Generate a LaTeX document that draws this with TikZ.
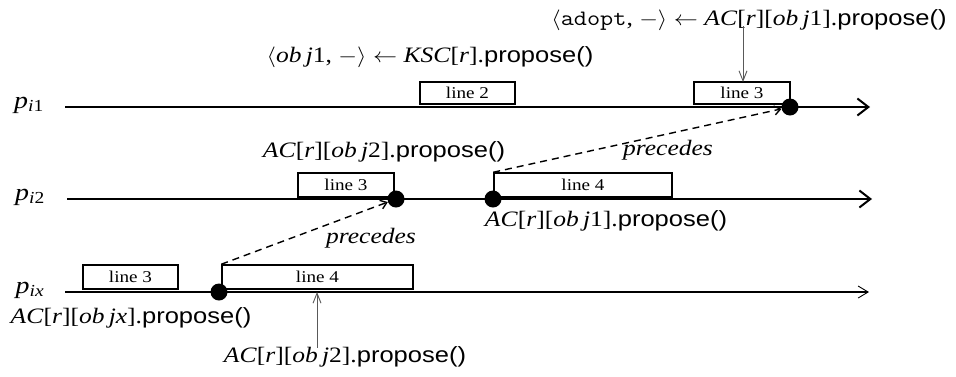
\documentclass[tikz,border=0pt]{standalone}
\usepackage{fontspec}
\setmainfont{Liberation Serif}
\setsansfont{Liberation Sans}
\usetikzlibrary{arrows.meta}
\newcommand{\pr}{\textsf{propose()}}
\newcommand{\ob}{\textit{ob\,j}}
\newcommand{\wx}[1]{\scalebox{1.16}[1]{#1}}
\begin{document}
\begin{tikzpicture}[x=1pt,y=-1pt,
  lbl/.style={font=\fontsize{22}{24}\selectfont, inner sep=0pt, anchor=base},
  plbl/.style={font=\fontsize{24}{26}\selectfont, inner sep=0pt, anchor=base},
  linebox/.style={draw, line width=1.5pt, font=\fontsize{16.5}{18}\selectfont, inner sep=0pt},
  tl/.style={line width=2.9pt, -{Straight Barb[length=11pt,width=17pt,line width=2pt]}},
  tlthin/.style={line width=2.3pt, -{Straight Barb[length=10pt,width=12pt,line width=0.9pt]}},
  evt/.style={circle, fill=black, inner sep=0pt, minimum size=17pt},
  prec/.style={dash pattern=on 7pt off 5pt, line width=1.4pt, -{Straight Barb[length=6pt,width=9pt]}},
  ptr/.style={gray!70!black, line width=0.9pt, -{Straight Barb[length=10pt,width=8pt]}}]
\useasboundingbox (0,0) rectangle (956,376);

% process labels and timelines
\node[plbl] (p1) at (29,108) {\wx{\textit{p}\textsubscript{\textit{i}1}}};
\node[plbl] (p2) at (30,200) {\wx{\textit{p}\textsubscript{\textit{i}2}}};
\node[plbl] (px) at (30,293) {\wx{\textit{p}\textsubscript{\textit{ix}}}};
\coordinate (s1) at (65,107);  \coordinate (e1) at (870,107);
\coordinate (s2) at (67,199);  \coordinate (e2) at (872,199);
\coordinate (sx) at (65,292);  \coordinate (ex) at (869,292);

% boxes
\node[linebox, minimum width=95pt, minimum height=22pt] (b12) at (467.5,93) {\wx{line 2}};
\node[linebox, minimum width=96pt, minimum height=22pt] (b13) at (742,93) {\wx{line 3}};
\node[linebox, minimum width=96pt, minimum height=24pt] (b23) at (346,185) {\wx{line 3}};
\node[linebox, minimum width=178pt, minimum height=24pt] (b24) at (583,185) {\wx{line 4}};
\node[linebox, minimum width=95pt, minimum height=24pt] (bx3) at (130.5,277) {\wx{line 3}};
\node[linebox, minimum width=191pt, minimum height=24pt] (bx4) at (317.5,277) {\wx{line 4}};

\draw[tl] (s1) -- (e1);
\draw[tl] (s2) -- (e2);
\draw[tlthin] (sx) -- (ex);

% events
\node[evt] (d1) at (790,107) {};
\node[evt] (d2) at (396,199) {};
\node[evt] (d3) at (493,199) {};
\node[evt] (d4) at (219,292) {};

% texts
\node[lbl] (top) at (749,25) {\wx{$\langle$\texttt{adopt}, $-\rangle \leftarrow$ \textit{AC}[\textit{r}][\ob1].\pr}};
\node[lbl] (ksc) at (430,62) {\wx{$\langle$\ob1, $-\rangle \leftarrow$ \textit{KSC}[\textit{r}].\pr}};
\node[lbl] (a2) at (384,157) {\wx{\textit{AC}[\textit{r}][\ob2].\pr}};
\node[lbl] (a1) at (606,226) {\wx{\textit{AC}[\textit{r}][\ob1].\pr}};
\node[lbl] (ax) at (131,323) {\wx{\textit{AC}[\textit{r}][\ob\textit{x}].\pr}};
\node[lbl] (ab) at (345,362) {\wx{\textit{AC}[\textit{r}][\ob2].\pr}};

% precedes
\draw[prec] (b24.north west) -- (d1);
\draw[prec] (bx4.north west) -- (d2);
\node[lbl] (pr1) at (668,155) {\wx{\textit{precedes}}};
\node[lbl] (pr2) at (371,243) {\wx{\textit{precedes}}};

% pointers
\coordinate (q1) at (743,82);
\coordinate (q2) at (317,292);
\draw[ptr] (top.south -| q1) ++(0,-4) -- (q1);
\draw[ptr] (ab.north -| q2) ++(0,2) -- (q2);
\end{tikzpicture}
\end{document}
